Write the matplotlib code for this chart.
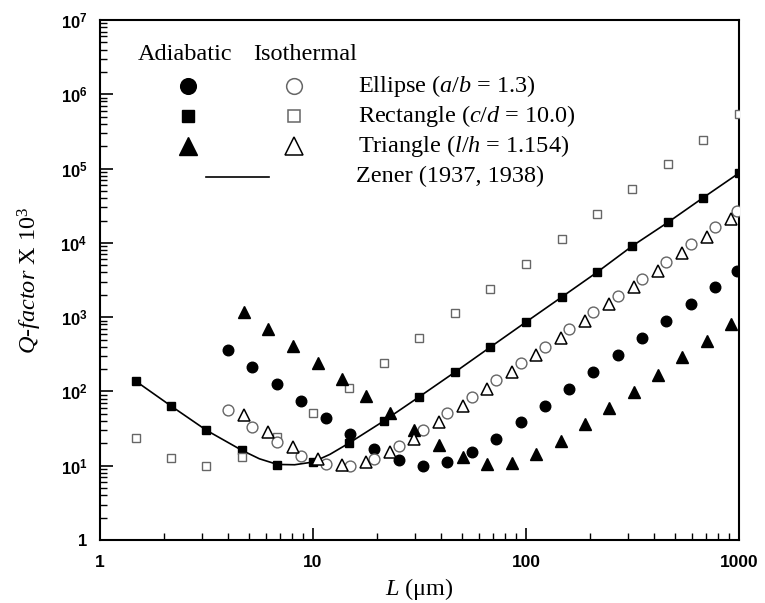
import matplotlib
matplotlib.use('Agg')
import matplotlib.pyplot as plt
import matplotlib.ticker as ticker

plt.rcParams['font.family'] = 'Liberation Serif'
plt.rcParams['mathtext.fontset'] = 'custom'
plt.rcParams['mathtext.rm'] = 'Liberation Serif'
plt.rcParams['mathtext.it'] = 'Liberation Serif:italic'
plt.rcParams['mathtext.bf'] = 'Liberation Sans:bold'

# ── Data ─────────────────────────────────────────────────────────────────────
# Rectangle (c/d = 10.0)
rect_L     = [1.47, 2.15, 3.16, 4.64, 6.81, 10, 14.7, 21.5, 31.6, 46.4, 68.1,
              100, 147, 215, 316, 464, 681, 1000]
rect_adia  = [138, 64, 30, 16.1, 10.2, 11.2, 20, 40, 85, 182, 396,
              860, 1860, 4000, 9100, 18900, 40800, 87000]
rect_iso   = [23.8, 12.8, 9.9, 13.2, 24.6, 50.7, 110, 239, 518, 1120, 2390,
              5190, 11300, 24700, 53000, 114000, 246000, 537000]

# Ellipse (a/b = 1.3)
ell_L      = [4.0, 5.2, 6.8, 8.8, 11.5, 15.0, 19.4, 25.3, 33, 42.8, 55.6,
              72.3, 94.4, 123, 160, 207, 269, 350, 456, 593, 771, 984]
ell_adia   = [361, 211, 125, 75, 44, 27, 17, 11.9, 9.9, 11.1, 15.1,
              23.1, 38.4, 64, 107, 181, 306, 518, 887, 1490, 2510, 4210]
ell_iso    = [56, 33.5, 20.7, 13.6, 10.4, 10.0, 12.4, 18.4, 30.2, 50.7, 85,
              142, 239, 400, 685, 1160, 1940, 3260, 5570, 9600, 16100, 27000]

# Triangle (l/h = 1.154)
tri_L      = [4.74, 6.18, 8.08, 10.5, 13.7, 17.7, 23.1, 29.9, 39.2, 50.8, 65.8,
              85.9, 112, 146, 189, 246, 321, 418, 542, 705, 917]
tri_adia   = [1180, 698, 412, 243, 146, 87, 51.7, 30.2, 19.2, 13.0, 10.6,
              10.8, 14.4, 21.7, 36, 60, 99, 166, 288, 481, 807]
tri_iso    = [48, 28.7, 17.7, 12.3, 10.2, 11.1, 15.3, 22.9, 38.4, 64, 109,
              182, 309, 518, 887, 1500, 2510, 4210, 7200, 12100, 20700]

# Zener (1937, 1938) curve
zener_L    = [1.47, 2.15, 3.16, 4.64, 5.6, 6.81, 8.2, 10, 12, 14.7, 21.5,
              31.6, 46.4, 68.1, 100, 147, 215, 316, 464, 681, 1000]
zener_Q    = [138, 64, 30, 16.1, 12.4, 10.4, 10.3, 11.2, 14.2, 20, 40,
              85, 182, 396, 860, 1860, 4000, 9100, 18900, 40800, 87000]

y_ticks  = [1, 10, 100, 1e3, 1e4, 1e5, 1e6, 1e7]
y_labels = ['1'] + [r'$\mathbf{10^{%d}}$' % k for k in range(1, 8)]
x_ticks  = [1, 10, 100, 1000]
x_labels = ['1', '10', '100', '1000']

GRAY = '#666666'

# ── Figure ───────────────────────────────────────────────────────────────────
fig = plt.figure(figsize=(7.65, 6.03), dpi=100)
ax = fig.add_axes([0.1307, 0.1045, 0.8353, 0.8623])

ax.plot(zener_L, zener_Q, color='black', lw=1.2, zorder=2)

ax.plot(rect_L, rect_adia, 's', color='black', ms=5.6, ls='none', zorder=3)
ax.plot(rect_L, rect_iso, 's', mfc='white', mec=GRAY, mew=1.0, ms=6.2, ls='none', zorder=3)
ax.plot(ell_L, ell_adia, 'o', color='black', ms=7.6, ls='none', zorder=3)
ax.plot(ell_L, ell_iso, 'o', mfc='white', mec=GRAY, mew=1.0, ms=7.8, ls='none', zorder=3)
ax.plot(tri_L, tri_adia, '^', color='black', ms=8.6, ls='none', zorder=3)
ax.plot(tri_L, tri_iso, '^', mfc='white', mec='black', mew=1.1, ms=8.6, ls='none', zorder=4)

ax.set_xscale('log')
ax.set_yscale('log')
ax.set_xlim(1, 1000)
ax.set_ylim(1, 1e7)

ax.set_xticks(x_ticks)
ax.set_xticklabels(x_labels, fontfamily='Liberation Sans', fontweight='bold', fontsize=12.5)
ax.set_yticks(y_ticks)
ax.set_yticklabels(y_labels, fontfamily='Liberation Sans', fontweight='bold', fontsize=12)
ax.xaxis.set_minor_locator(ticker.LogLocator(base=10, subs=range(2, 10), numticks=20))
ax.yaxis.set_minor_locator(ticker.LogLocator(base=10, subs=range(2, 10), numticks=20))
ax.xaxis.set_minor_formatter(ticker.NullFormatter())
ax.yaxis.set_minor_formatter(ticker.NullFormatter())
ax.tick_params(which='major', direction='in', length=9, width=1.2)
ax.tick_params(axis='x', which='major', pad=11)
ax.tick_params(axis='y', which='major', pad=9)
ax.tick_params(which='minor', direction='in', length=5, width=1.0)
ax.tick_params(top=False, right=False, which='both')
for sp in ax.spines.values():
    sp.set_linewidth(1.5)

ax.set_xlabel(r'$L$ (μm)', fontsize=17.5, labelpad=4)
ax.set_ylabel(r'$Q$-$factor$ X 10$^3$', fontsize=17.5, labelpad=12)

# ── Legend (hand-built, two marker columns) ──────────────────────────────────
col_a, col_i = 0.137, 0.304
rows = [0.874, 0.815, 0.758]
txt_x = 0.404
ax.text(0.059, 0.933, 'Adiabatic', transform=ax.transAxes, fontsize=17.5, va='center')
ax.text(0.239, 0.933, 'Isothermal', transform=ax.transAxes, fontsize=17.5, va='center')

leg_entries = [
    ('o', 11.3, GRAY, 'Ellipse ($a/b$ = 1.3)'),
    ('s', 9.0, GRAY, 'Rectangle ($c/d$ = 10.0)'),
    ('^', 12.5, 'black', 'Triangle ($l/h$ = 1.154)'),
]
for (mk, ms, ec, lab), yy in zip(leg_entries, rows):
    ax.plot([col_a], [yy], mk, color='black', ms=ms, transform=ax.transAxes, clip_on=False)
    ax.plot([col_i], [yy], mk, mfc='white', mec=ec, mew=1.1, ms=ms, transform=ax.transAxes, clip_on=False)
    ax.text(txt_x, yy, lab, transform=ax.transAxes, fontsize=17.5, va='center')

ax.plot([0.166, 0.264], [0.699, 0.699], color='black', lw=1.2, transform=ax.transAxes)
ax.text(0.40, 0.699, 'Zener (1937, 1938)', transform=ax.transAxes, fontsize=17.5, va='center')

fig.savefig('out.png', dpi=100)
